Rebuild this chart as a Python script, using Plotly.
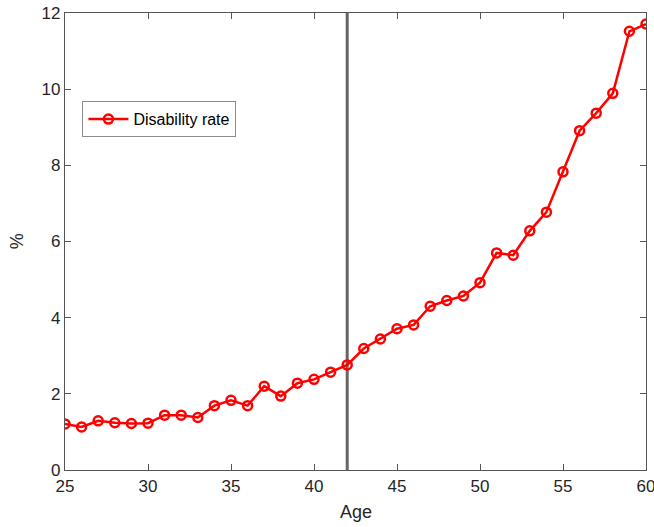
import plotly.graph_objects as go

# Disability rate by age
ages = list(range(25, 61))
disability_rate = [
    1.21, 1.13, 1.29, 1.24, 1.22, 1.23, 1.44, 1.44, 1.38, 1.69,
    1.83, 1.69, 2.20, 1.94, 2.28, 2.38, 2.57, 2.76, 3.19, 3.44,
    3.71, 3.81, 4.30, 4.45, 4.57, 4.92, 5.70, 5.64, 6.28, 6.77,
    7.83, 8.91, 9.37, 9.89, 11.52, 11.71,
]
cutoff_age = 42
x_ticks = [25, 30, 35, 40, 45, 50, 55, 60]
y_ticks = [0, 2, 4, 6, 8, 10, 12]

axis_color = "#555555"
text_color = "#262626"
font_family = "Liberation Sans, Arial, sans-serif"

fig = go.Figure()
fig.add_trace(go.Scatter(
    x=ages, y=disability_rate, mode="lines+markers", name="Disability rate",
    line=dict(color="#ff0000", width=2.5),
    marker=dict(symbol="circle-open", size=9, color="#ff0000",
                line=dict(width=2.5, color="#ff0000")),
))

fig.add_shape(type="line", xref="x", yref="paper", x0=cutoff_age, x1=cutoff_age,
              y0=0, y1=1, line=dict(color="#666666", width=3), layer="below")

axis_common = dict(
    showgrid=False, zeroline=False, showline=True, linecolor=axis_color, linewidth=1.3,
    mirror="ticks", ticks="inside", ticklen=6, tickwidth=1, tickcolor=axis_color,
    tickfont=dict(family=font_family, size=17, color=text_color),
    automargin=False, ticklabeloverflow="allow",
)

# Axis titles placed as annotations so the plot area keeps fixed margins
fig.add_annotation(text="Age", xref="paper", yref="paper", x=0.5, y=-0.092,
                   xanchor="center", yanchor="middle", showarrow=False,
                   font=dict(family=font_family, size=18, color=text_color))
fig.add_annotation(text="%", xref="paper", yref="paper", x=-0.083, y=0.5,
                   xanchor="center", yanchor="middle", showarrow=False, textangle=-90,
                   font=dict(family=font_family, size=18, color=text_color))

fig.update_layout(
    width=654, height=527,
    margin=dict(l=65, r=8, t=13, b=57),
    paper_bgcolor="white", plot_bgcolor="white",
    font=dict(family=font_family, color=text_color),
    xaxis=dict(range=[25, 60], tickvals=x_ticks, **axis_common),
    yaxis=dict(range=[0, 12], tickvals=y_ticks, **axis_common),
    legend=dict(x=0.03, y=0.807, xanchor="left", yanchor="top",
                bgcolor="white", bordercolor="#8c8c8c", borderwidth=1,
                font=dict(family=font_family, size=16, color="#000000"),
                itemwidth=40, tracegroupgap=0),
    showlegend=True,
)

fig.write_html("out.html")
